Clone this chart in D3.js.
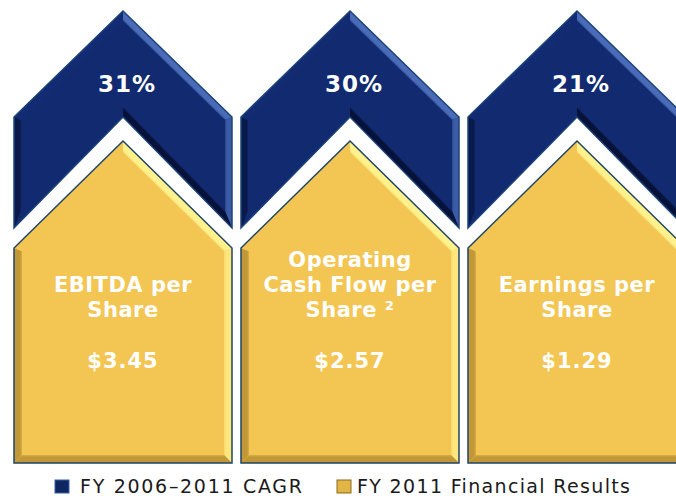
<!DOCTYPE html>
<html>
<head>
  <script src="https://cdn.jsdelivr.net/npm/d3@7"></script>
  <style>
    body { margin: 0; background: #fff; }
    svg { display: block; }
  </style>
</head>
<body>
  <svg id="chart" width="676" height="496"></svg>
  <script>
  // chart values
  const categories = ["EBITDA per Share", "Operating Cash Flow per Share", "Earnings per Share"];
  const labelLines = [["EBITDA per", "Share"], ["Operating", "Cash Flow per", "Share \u00b2"], ["Earnings per", "Share"]];
  const cagrPct = [31, 30, 21];
  const valuesUSD = [3.45, 2.57, 1.29];
  const legendLabels = ["FY 2006\u20132011 CAGR", "FY 2011 Financial Results"];

  const svg = d3.select('#chart');
  const defs = svg.append('defs');

  const x = d3.scaleBand().domain(categories).range([14, 686]).paddingInner(0.0396);
  // vertical layout of the two stacked shapes
  const y = d3.scaleLinear().domain([0, 1]).range([11, 463]);
  const chevTop = 11, chevShoulder = 117, chevBottom = 228;
  const goldTop = 141, goldShoulder = 248, goldBottom = y(1);

  const navy = { base: '#112a70', light: '#4a6cb8', dark: '#050f33', stroke: '#1c4478', dk: 0.9 };
  const gold = { base: '#f3c553', light: '#fff28c', dark: '#8c6a1c', stroke: '#1f4466', dk: 0.7 };
  const light = [0.7, -0.71];

  // inset polygon by d, returns inner vertices
  function inset(pts, d) {
    const n = pts.length;
    const lines = pts.map((p, i) => {
      const q = pts[(i + 1) % n];
      const ex = q[0] - p[0], ey = q[1] - p[1];
      const len = Math.hypot(ex, ey);
      let nx = -ey / len, ny = ex / len;
      const mid = [(p[0] + q[0]) / 2 + nx * 1.5, (p[1] + q[1]) / 2 + ny * 1.5];
      if (!d3.polygonContains(pts, mid)) { nx = -nx; ny = -ny; }
      return { a: [p[0] + nx * d, p[1] + ny * d], u: [ex, ey], n: [-nx, -ny] };
    });
    const inner = pts.map((p, i) => {
      const A = lines[(i - 1 + n) % n], B = lines[i];
      const cr = A.u[0] * B.u[1] - A.u[1] * B.u[0];
      const bx = B.a[0] - A.a[0], by = B.a[1] - A.a[1];
      const t = (bx * B.u[1] - by * B.u[0]) / cr;
      return [A.a[0] + A.u[0] * t, A.a[1] + A.u[1] * t];
    });
    return { inner, lines };
  }

  let gid = 0;
  function bevelShape(g, pts, pal, d) {
    const { inner, lines } = inset(pts, d);
    const n = pts.length;
    g.append('path')
      .attr('d', 'M' + pts.join('L') + 'Z')
      .attr('fill', pal.base);
    pts.forEach((p, i) => {
      const q = pts[(i + 1) % n];
      const s = lines[i].n[0] * light[0] + lines[i].n[1] * light[1];
      const c = s > 0 ? d3.interpolateRgb(pal.base, pal.light)(Math.min(1, s * 1.05))
                      : d3.interpolateRgb(pal.base, pal.dark)(Math.min(1, -s * pal.dk));
      const id = 'bv' + (gid++);
      const mo = [(p[0] + q[0]) / 2, (p[1] + q[1]) / 2];
      const mi = [mo[0] - lines[i].n[0] * d, mo[1] - lines[i].n[1] * d];
      const grad = defs.append('linearGradient').attr('id', id)
        .attr('gradientUnits', 'userSpaceOnUse')
        .attr('x1', mo[0]).attr('y1', mo[1]).attr('x2', mi[0]).attr('y2', mi[1]);
      grad.append('stop').attr('offset', 0).attr('stop-color', c);
      grad.append('stop').attr('offset', 0.75).attr('stop-color', c);
      grad.append('stop').attr('offset', 1).attr('stop-color', d3.interpolateRgb(c, pal.base)(0.5));
      g.append('path')
        .attr('d', 'M' + [p, q, inner[(i + 1) % n], inner[i]].join('L') + 'Z')
        .attr('fill', 'url(#' + id + ')');
    });
    g.append('path')
      .attr('d', 'M' + pts.join('L') + 'Z')
      .attr('fill', 'none')
      .attr('stroke', pal.stroke)
      .attr('stroke-width', 1.5)
      .attr('stroke-linejoin', 'miter');
  }

  const cols = svg.selectAll('g.col')
    .data(categories)
    .join('g').attr('class', 'col');

  cols.each(function(cat, i) {
    const g = d3.select(this);
    const x0 = x(cat), x1 = x0 + x.bandwidth(), cx = x0 + x.bandwidth() / 2;

    const chevron = [[cx, chevTop], [x1, chevShoulder], [x1, chevBottom],
                     [cx, chevShoulder], [x0, chevBottom], [x0, chevShoulder]];
    bevelShape(g.append('g'), chevron, navy, 7);

    const house = [[cx, goldTop], [x1, goldShoulder], [x1, goldBottom],
                   [x0, goldBottom], [x0, goldShoulder]];
    bevelShape(g.append('g'), house, gold, 8);

    g.append('text')
      .attr('x', cx + 4).attr('y', 92)
      .attr('text-anchor', 'middle')
      .attr('fill', '#fff')
      .style('font', 'bold 23px "DejaVu Sans", sans-serif')
      .style('letter-spacing', '1px')
      .text(cagrPct[i] + '%');

    const lines = labelLines[i];
    lines.forEach((ln, k) => {
      g.append('text')
        .attr('x', cx).attr('y', 317 - (lines.length - 1 - k) * 25)
        .attr('text-anchor', 'middle')
        .attr('fill', '#fff')
        .style('font', 'bold 21px "DejaVu Sans", sans-serif')
        .style('letter-spacing', '0.5px')
        .text(ln);
    });
    g.append('text')
      .attr('x', cx).attr('y', 368)
      .attr('text-anchor', 'middle')
      .attr('fill', '#fff')
      .style('font', 'bold 21px "DejaVu Sans", sans-serif')
      .style('letter-spacing', '1px')
      .text('$' + d3.format('.2f')(valuesUSD[i]));
  });

  // legend
  const legend = svg.append('g');
  const legendItems = [
    { label: legendLabels[0], sx: 55, tx: 80, w: 222, fill: '#0e2763', edge: '#3b5da6' },
    { label: legendLabels[1], sx: 337, tx: 357, w: 273, fill: '#e2b646', edge: '#8a6a1c' }
  ];
  legendItems.forEach(it => {
    legend.append('rect')
      .attr('x', it.sx).attr('y', 480).attr('width', 14).attr('height', 13)
      .attr('fill', it.fill).attr('stroke', it.edge).attr('stroke-width', 1);
    legend.append('text')
      .attr('x', it.tx).attr('y', 493)
      .attr('textLength', it.w).attr('lengthAdjust', 'spacing')
      .attr('fill', '#1a1a1a')
      .style('font', '19px "DejaVu Sans", sans-serif')
      .text(it.label);
  });
  </script>
</body>
</html>
